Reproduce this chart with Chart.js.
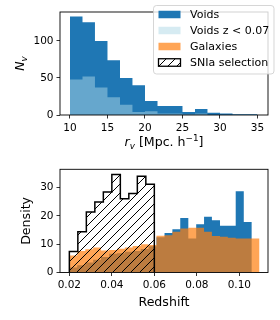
<!DOCTYPE html>
<html>
<head>
<meta charset="utf-8">
<script src="https://cdn.jsdelivr.net/npm/chart.js@4.4.0/dist/chart.umd.min.js"></script>
<style>
  html, body { margin: 0; padding: 0; background: #fff; }
  #wrap { position: relative; width: 280px; height: 320px; }
  .panel { position: absolute; left: 0; width: 280px; height: 160px; }
</style>
</head>
<body>
<div id="wrap">
  <div class="panel" style="top:0"><canvas id="top-chart" width="280" height="160"></canvas></div>
  <div class="panel" style="top:160px"><canvas id="bottom-chart" width="280" height="160"></canvas></div>
</div>
<script>
// panel atas: radius void
const radiusEdges = [10, 11.67, 13.33, 15, 16.67, 18.33, 20, 21.67, 23.33, 25, 26.67, 28.33, 30, 31.67, 33.33, 35];
const voidsCounts = [133, 125, 100, 74, 50, 40, 19, 12, 12, 4, 8, 3, 2, 1, 1];
const voidsLowZCounts = [48, 52, 37, 24, 14, 4, 5, 2, 2, 1, 2, 0, 0, 0, 0];
const radiusTicks = [10, 15, 20, 25, 30, 35];
const countTicks = [0, 50, 100];

// panel bawah: distribusi redshift
const zEdges = [0.02, 0.0237, 0.0275, 0.0312, 0.0349, 0.0387, 0.0424, 0.0461, 0.0498, 0.0536,
  0.0573, 0.0610, 0.0648, 0.0685, 0.0722, 0.0760, 0.0797, 0.0834, 0.0871, 0.0909,
  0.0946, 0.0983, 0.1021, 0.1058, 0.1095];
const voidsDensity = [1.8, 2.6, 3.5, 4.5, 5.5, 6.6, 6.8, 7.3, 7.6, 8.3, 9.3, 12.5,
  14.0, 15.3, 19.3, 12.0, 17.1, 19.7, 18.5, 16.5, 16.5, 28.7, 17.9, 0];
const galaxiesDensity = [6.0, 7.6, 8.2, 8.8, 7.8, 8.0, 8.4, 8.8, 9.4, 10.0, 9.7, 13.0,
  13.2, 14.4, 15.6, 15.8, 15.8, 14.4, 12.9, 12.6, 12.3, 12.0, 12.0, 12.0];
const snEdges = [0.02, 0.024, 0.028, 0.032, 0.036, 0.04, 0.044, 0.048, 0.052, 0.056, 0.06];
const snDensity = [7.4, 14.4, 21.4, 24.9, 28.5, 34.7, 26.1, 27.9, 34.0, 31.2];
const zTicks = [0.02, 0.04, 0.06, 0.08, 0.10];
const densityTicks = [0, 10, 20, 30];

const legendLabels = ["Voids", "Voids z < 0.07", "Galaxies", "SNIa selection"];

const BLUE = "#1f77b4";
const LIGHT = "rgba(173,216,230,0.5)";
const ORANGE = "rgba(255,127,14,0.7)";
const FONT = '"DejaVu Sans", sans-serif';

// pola arsiran "/"
function makeHatch() {
  const s = 9;
  const c = document.createElement("canvas");
  c.width = s; c.height = s;
  const g = c.getContext("2d");
  g.strokeStyle = "#000";
  g.lineWidth = 1;
  g.beginPath();
  g.moveTo(-1, s + 1); g.lineTo(s + 1, -1);
  g.moveTo(-1, 1); g.lineTo(1, -1);
  g.moveTo(s - 1, s + 1); g.lineTo(s + 1, s - 1);
  g.stroke();
  return g.createPattern(c, "repeat");
}
const hatch = makeHatch();

// histogram -> titik garis bertingkat
function stepPoints(edges, counts) {
  const n = counts.length;
  const pts = [{ x: edges[0], y: 0 }];
  counts.forEach((c, i) => pts.push({ x: edges[i], y: c }));
  pts.push({ x: edges[n], y: counts[n - 1] });
  pts.push({ x: edges[n], y: 0 });
  return pts;
}

function histSet(edges, counts, fill, border, bw) {
  return {
    data: stepPoints(edges, counts),
    backgroundColor: fill,
    borderColor: border || "rgba(0,0,0,0)",
    borderWidth: bw || 0,
    fill: "origin",
    stepped: true,
    pointRadius: 0,
    tension: 0
  };
}

// teks dengan subskrip / superskrip
function drawRich(ctx, parts, cx, baseY) {
  let w = 0;
  parts.forEach(p => { ctx.font = p.font; w += ctx.measureText(p.t).width; });
  let x = cx - w / 2;
  ctx.textAlign = "left";
  ctx.textBaseline = "alphabetic";
  ctx.fillStyle = "#000";
  parts.forEach(p => {
    ctx.font = p.font;
    ctx.fillText(p.t, x, baseY + (p.dy || 0));
    x += ctx.measureText(p.t).width;
  });
}

const frame = {
  id: "frame",
  afterDraw(chart) {
    const { ctx, chartArea: a } = chart;
    ctx.save();
    ctx.strokeStyle = "#000";
    ctx.lineWidth = 0.9;
    ctx.strokeRect(a.left, a.top, a.right - a.left, a.bottom - a.top);
    ctx.restore();
  }
};

function axisOpts(min, max, ticks, fmt, size) {
  return {
    type: "linear",
    min, max,
    afterBuildTicks: s => { s.ticks = ticks.map(v => ({ value: v })); },
    afterFit: s => { if (s.isHorizontal()) s.height = size; else s.width = size; },
    grid: { display: true, drawOnChartArea: false, drawTicks: true, tickLength: 3.5, color: "#000", lineWidth: 0.8 },
    border: { display: false },
    ticks: { color: "#000", padding: 3, font: { family: FONT, size: 10.5 }, callback: fmt, maxRotation: 0, autoSkip: false }
  };
}

const topLabels = {
  id: "topLabels",
  afterDraw(chart) {
    const ctx = chart.ctx;
    const a = chart.chartArea;
    const it = "italic 12.6px " + FONT, sub = "italic 8.8px " + FONT;
    const rg = "12.6px " + FONT, sup = "8.8px " + FONT;
    ctx.save();
    drawRich(ctx, [
      { t: "r", font: it }, { t: "v", font: sub, dy: 2.5 },
      { t: " [Mpc. h", font: rg }, { t: "\u22121", font: sup, dy: -5 }, { t: "]", font: rg }
    ], (a.left + a.right) / 2, 146);
    ctx.translate(24.2, (a.top + a.bottom) / 2);
    ctx.rotate(-Math.PI / 2);
    drawRich(ctx, [{ t: "N", font: it }, { t: "v", font: sub, dy: 2.5 }], 0, 0);
    ctx.restore();

    // legenda
    ctx.save();
    const bx = 153.5, by = 5.5, bw = 120.5, bh = 68.5, r = 3;
    ctx.beginPath();
    ctx.roundRect(bx, by, bw, bh, r);
    ctx.fillStyle = "rgba(255,255,255,0.8)";
    ctx.fill();
    ctx.strokeStyle = "rgba(204,204,204,0.8)";
    ctx.lineWidth = 1;
    ctx.stroke();
    const fills = [BLUE, LIGHT, ORANGE, hatch];
    legendLabels.forEach((lab, i) => {
      const cy = 14.5 + i * 16;
      const px = 158.5, pw = 22, ph = 7.5;
      if (i === 3) {
        ctx.fillStyle = "#fff";
        ctx.fillRect(px, cy - ph / 2, pw, ph);
      }
      ctx.fillStyle = fills[i];
      ctx.fillRect(px, cy - ph / 2, pw, ph);
      if (i === 3) {
        ctx.strokeStyle = "#000";
        ctx.lineWidth = 1.3;
        ctx.strokeRect(px, cy - ph / 2, pw, ph);
      }
      ctx.fillStyle = "#000";
      ctx.font = "11px " + FONT;
      ctx.textAlign = "left";
      ctx.textBaseline = "middle";
      ctx.fillText(lab, 190, cy + 0.5);
    });
    ctx.restore();
  }
};

const bottomLabels = {
  id: "bottomLabels",
  afterDraw(chart) {
    const ctx = chart.ctx;
    const a = chart.chartArea;
    const rg = "12.6px " + FONT;
    ctx.save();
    drawRich(ctx, [{ t: "Redshift", font: rg }], (a.left + a.right) / 2, 145.7);
    ctx.translate(30.3, (a.top + a.bottom) / 2);
    ctx.rotate(-Math.PI / 2);
    drawRich(ctx, [{ t: "Density", font: rg }], 0, 0);
    ctx.restore();
  }
};

new Chart(document.getElementById("top-chart"), {
  type: "line",
  data: {
    datasets: [
      histSet(radiusEdges, voidsLowZCounts, LIGHT),
      histSet(radiusEdges, voidsCounts, BLUE)
    ]
  },
  options: {
    responsive: false,
    animation: false,
    layout: { padding: { left: 0, right: 12, top: 12, bottom: 0 } },
    plugins: { legend: { display: false }, tooltip: { enabled: false } },
    scales: {
      x: axisOpts(8.67, 36.4, radiusTicks, v => String(v), 45),
      y: axisOpts(0, 139, countTicks, v => String(v), 60)
    }
  },
  plugins: [frame, topLabels]
});

new Chart(document.getElementById("bottom-chart"), {
  type: "line",
  data: {
    datasets: [
      histSet(snEdges, snDensity, hatch, "#000", 1.5),
      histSet(zEdges, galaxiesDensity, ORANGE),
      histSet(zEdges, voidsDensity, BLUE)
    ]
  },
  options: {
    responsive: false,
    animation: false,
    layout: { padding: { left: 0, right: 12, top: 9.3, bottom: 0 } },
    plugins: { legend: { display: false }, tooltip: { enabled: false } },
    scales: {
      x: axisOpts(0.0156, 0.1135, zTicks, v => v.toFixed(2), 47.5),
      y: axisOpts(0, 36.5, densityTicks, v => String(v), 60)
    }
  },
  plugins: [frame, bottomLabels]
});
</script>
</body>
</html>
